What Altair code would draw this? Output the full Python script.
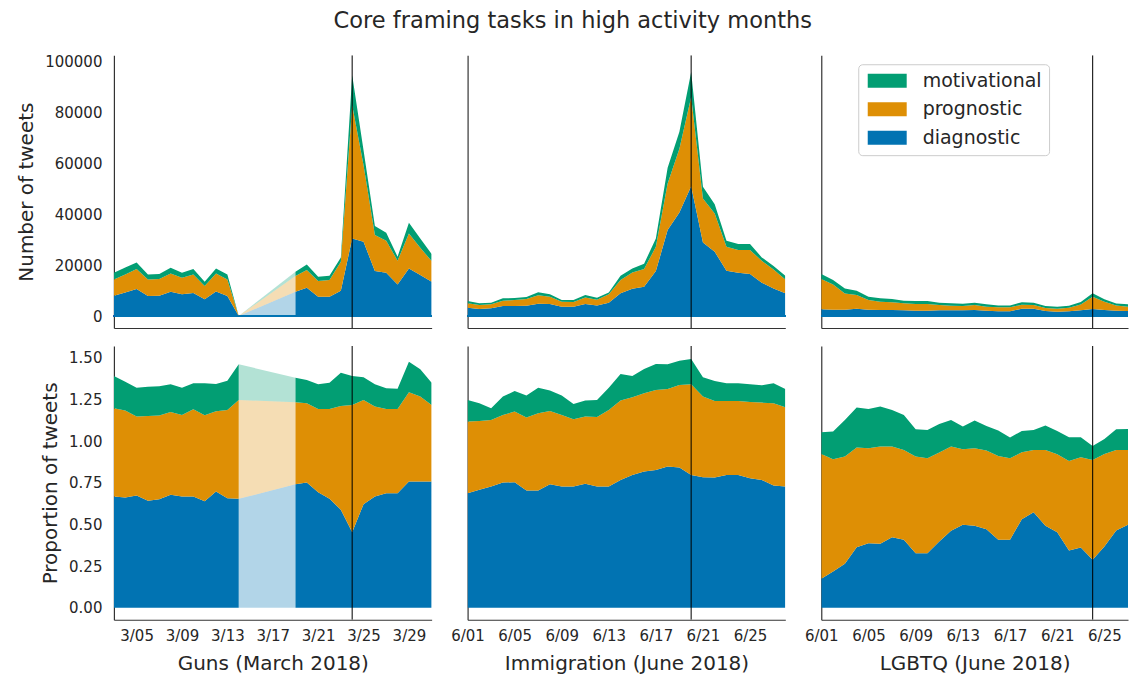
import altair as alt
import pandas as pd

SERIES = ["diagnostic", "prognostic", "motivational"]
LEGEND_ORDER = ["motivational", "prognostic", "diagnostic"]
COLORS = ["#029e73", "#de8f05", "#0173b2"]
BLUE = "#0173b2"

# ---------------- Guns (March 2018) ----------------
guns_dates = [f"2018-03-{d:02d}" for d in list(range(3, 15)) + list(range(19, 32))]
guns_count_diag = [7970, 9280, 10590, 7840, 7970, 9540, 8500, 9020, 6540, 9670, 7840, 0,
                   9540, 11110, 7580, 7580, 9930, 30450, 29150, 17650, 16990, 12420, 18690, 16080, 13460]
guns_count_prog = [6400, 7060, 7840, 6540, 6540, 7190, 6540, 7320, 5230, 7060, 6540, 0,
                   6140, 6930, 6140, 6540, 11370, 52280, 30060, 14120, 12550, 9280, 13720, 10720, 8100]
guns_count_mot = [2610, 2750, 2610, 1960, 1960, 2220, 1960, 2090, 1700, 1960, 1960, 0,
                  1700, 2220, 1700, 1700, 1700, 11760, 5880, 3530, 3140, 1570, 4180, 3660, 2750]
guns_prop_diag = [0.668, 0.662, 0.674, 0.642, 0.652, 0.678, 0.668, 0.668, 0.640, 0.698, 0.658, 0.654,
                  0.742, 0.752, 0.694, 0.654, 0.588, 0.454, 0.622, 0.668, 0.688, 0.688, 0.758, 0.758, 0.758]
guns_prop_prog = [0.530, 0.522, 0.474, 0.510, 0.502, 0.498, 0.490, 0.524, 0.516, 0.482, 0.530, 0.594,
                  0.492, 0.476, 0.500, 0.540, 0.624, 0.764, 0.626, 0.540, 0.506, 0.506, 0.536, 0.510, 0.460]
guns_prop_mot = [0.194, 0.174, 0.174, 0.176, 0.176, 0.166, 0.164, 0.156, 0.192, 0.164, 0.176, 0.214,
                 0.148, 0.140, 0.148, 0.158, 0.200, 0.174, 0.136, 0.134, 0.124, 0.122, 0.184, 0.164, 0.134]
guns_gap = ["2018-03-14", "2018-03-19"]
guns_event = "2018-03-24"

# ---------------- Immigration (June 2018) ----------------
imm_dates = [f"2018-06-{d:02d}" for d in range(1, 29)]
imm_count_diag = [3270, 2750, 3010, 3920, 3920, 4050, 4840, 4710, 3660, 3660, 4710, 4180, 5230, 8890,
                  10720, 11500, 17650, 33720, 40650, 50970, 28890, 25230, 17780, 16990, 16470, 13070, 10850, 8890]
imm_count_prog = [1700, 1570, 1570, 2090, 2350, 2610, 3270, 2880, 1960, 1830, 2610, 2220, 3270, 5230,
                  6400, 6930, 9540, 18300, 24960, 35030, 17250, 15030, 9410, 8890, 9410, 8630, 7450, 5490]
imm_count_mot = [920, 650, 650, 920, 780, 780, 1180, 920, 650, 780, 920, 780, 780, 1700,
                 1570, 2090, 3270, 6140, 6670, 9800, 4580, 3660, 2350, 2350, 2350, 1310, 1310, 1440]
imm_prop_diag = [0.688, 0.708, 0.728, 0.752, 0.754, 0.704, 0.704, 0.742, 0.728, 0.728, 0.744, 0.728, 0.728, 0.768,
                 0.798, 0.818, 0.828, 0.848, 0.842, 0.798, 0.784, 0.782, 0.798, 0.798, 0.778, 0.768, 0.734, 0.728]
imm_prop_prog = [0.430, 0.414, 0.400, 0.406, 0.424, 0.438, 0.464, 0.440, 0.430, 0.404, 0.404, 0.418, 0.460, 0.476,
                 0.466, 0.470, 0.480, 0.466, 0.496, 0.544, 0.484, 0.460, 0.444, 0.444, 0.458, 0.464, 0.494, 0.476]
imm_prop_mot = [0.130, 0.106, 0.070, 0.110, 0.124, 0.132, 0.154, 0.122, 0.116, 0.092, 0.096, 0.102, 0.134, 0.160,
                0.128, 0.146, 0.156, 0.148, 0.146, 0.152, 0.116, 0.120, 0.106, 0.106, 0.106, 0.104, 0.120, 0.110]
imm_event = "2018-06-20"

# ---------------- LGBTQ (June 2018) ----------------
lgb_dates = [f"2018-06-{d:02d}" for d in range(1, 29)]
lgb_count_diag = [2610, 2480, 2480, 2880, 2480, 2350, 2350, 2220, 2090, 2090, 2220, 2220, 2220, 2350,
                  2090, 1830, 1830, 2880, 2880, 1960, 1700, 1830, 2220, 2750, 2350, 2090, 1960, 1960]
lgb_count_prog = [11890, 9930, 6400, 5360, 3790, 3270, 3010, 2750, 2610, 2610, 2090, 1830, 1700, 1960,
                  1570, 1570, 1570, 1570, 1440, 1180, 1180, 1440, 2350, 4840, 3270, 2090, 1700, 1960]
lgb_count_mot = [1960, 1700, 1960, 1700, 1310, 1310, 1310, 1050, 1180, 1180, 920, 920, 920, 920,
                 920, 780, 780, 920, 920, 780, 780, 780, 920, 1310, 920, 780, 920, 780]
lgb_prop_diag = [0.174, 0.218, 0.264, 0.364, 0.388, 0.384, 0.424, 0.408, 0.328, 0.328, 0.398, 0.462, 0.498, 0.492,
                 0.472, 0.408, 0.408, 0.532, 0.574, 0.492, 0.454, 0.344, 0.362, 0.288, 0.368, 0.464, 0.498, 0.468]
lgb_prop_prog = [0.750, 0.674, 0.644, 0.598, 0.570, 0.584, 0.544, 0.540, 0.580, 0.570, 0.534, 0.506, 0.454, 0.466,
                 0.472, 0.504, 0.490, 0.402, 0.374, 0.456, 0.468, 0.538, 0.542, 0.600, 0.556, 0.484, 0.450, 0.476]
lgb_prop_mot = [0.130, 0.166, 0.220, 0.240, 0.236, 0.240, 0.220, 0.210, 0.164, 0.170, 0.172, 0.160, 0.136, 0.166,
                0.148, 0.152, 0.124, 0.128, 0.120, 0.146, 0.140, 0.142, 0.120, 0.084, 0.090, 0.124, 0.126, 0.134]
lgb_event = "2018-06-24"

col_titles = ["Guns (March 2018)", "Immigration (June 2018)", "LGBTQ (June 2018)"]
row_titles = ["Number of tweets", "Proportion of tweets"]
count_ticks = [0, 20000, 40000, 60000, 80000, 100000]
prop_ticks = [0.0, 0.25, 0.5, 0.75, 1.0, 1.25, 1.5]
guns_ticks = [5, 9, 13, 17, 21, 25, 29]
june_ticks = [1, 5, 9, 13, 17, 21, 25]


def long_df(dates, counts, props, gap_start=None):
    rows = []
    for r, s in enumerate(SERIES):
        for i, d in enumerate(dates):
            seg = 1 if (gap_start is not None and d > gap_start) else 0
            rows.append({"date": d, "series": s, "rank": r,
                         "count": counts[r][i], "prop": props[r][i], "seg": seg})
    return pd.DataFrame(rows)


guns_df = long_df(guns_dates, [guns_count_diag, guns_count_prog, guns_count_mot],
                  [guns_prop_diag, guns_prop_prog, guns_prop_mot], gap_start="2018-03-14")
imm_df = long_df(imm_dates, [imm_count_diag, imm_count_prog, imm_count_mot],
                 [imm_prop_diag, imm_prop_prog, imm_prop_mot])
lgb_df = long_df(lgb_dates, [lgb_count_diag, lgb_count_prog, lgb_count_mot],
                 [lgb_prop_diag, lgb_prop_prog, lgb_prop_mot])
guns_gap_df = guns_df[guns_df["date"].isin(guns_gap)].copy()
guns_gap_df["seg"] = 2

legend = alt.Legend(
    orient="none", legendX=745, legendY=9, title=None,
    labelFontSize=19, labelColor="#262626", labelFont="DejaVu Sans",
    symbolType="M-2.786,-1H2.786V1H-2.786Z", symbolSize=196, symbolOffset=12.5,
    symbolStrokeWidth=0, symbolOpacity=1, labelOffset=26,
    rowPadding=8.5, padding=7, strokeColor="#cccccc", fillColor="white",
    cornerRadius=4,
)
color = alt.Color("series:N", scale=alt.Scale(domain=LEGEND_ORDER, range=COLORS), legend=legend)


def dt(month, day):
    return alt.DateTime(year=2018, month=month, date=day, utc=True)


def panel(df, gap_df, event, month, xdom, ticks, width, top, first, title):
    if top:
        metric = "count"
        ydom = [-4706, 102353]
        yaxis = alt.Axis(values=count_ticks, format="d", title=row_titles[0]) if first \
            else alt.Axis(labels=False, title=None)
        xaxis = alt.Axis(labels=False, title=None)
        height = 273
    else:
        metric = "prop"
        ydom = [-0.072, 1.572]
        yaxis = alt.Axis(values=prop_ticks, format=".2f", title=row_titles[1]) if first \
            else alt.Axis(labels=False, title=None)
        xaxis = alt.Axis(values=[dt(month, d) for d in ticks], labelOverlap=False, labelFlush=False,
                         labelExpr="utcFormat(datum.value, '%-m/%d')", title=title)
        height = 274
    xs = alt.Scale(type="utc", domain=[dt(month, xdom[0]), dt(month, xdom[1])], nice=False)
    ys = alt.Scale(domain=ydom, nice=False, zero=False)
    x = alt.X("date:T", scale=xs, axis=xaxis)
    y = alt.Y("y0:Q", scale=ys, axis=yaxis)
    y2 = alt.Y2("y1:Q")

    def stacked(data, **mark):
        return alt.Chart(data).transform_stack(
            stack=metric, groupby=["date", "seg"], sort=[alt.SortField("rank", order="ascending")],
            as_=["y0", "y1"],
        ).mark_area(clip=True, **mark).encode(
            x=x, y=y, y2=y2, color=color, detail="seg:N")

    layers = []
    if top:
        layers.append(alt.Chart(df).mark_rule(color=BLUE, opacity=0.3, strokeWidth=1.5)
                      .encode(y=alt.datum(0)))
    layers.append(stacked(df))
    if gap_df is not None:
        layers.append(stacked(gap_df, opacity=0.3))
    ev = pd.DataFrame({"date": [event]})
    layers.append(alt.Chart(ev).mark_rule(color="black", strokeWidth=1.2, opacity=0.85, clip=True)
                  .encode(x=alt.X("date:T")))
    return alt.layer(*layers).properties(width=width, height=height)


specs = [
    (guns_df, guns_gap_df, guns_event, 3, (3, 31), guns_ticks, 318),
    (imm_df, None, imm_event, 6, (1, 28), june_ticks, 318),
    (lgb_df, None, lgb_event, 6, (1, 27), june_ticks, 307),
]
panels = []
for top in (True, False):
    for i, (df, gdf, ev, m, xdom, ticks, w) in enumerate(specs):
        panels.append(panel(df, gdf, ev, m, xdom, ticks, w, top, i == 0, col_titles[i]))

chart = alt.concat(*panels, columns=3, spacing={"row": 18, "column": 36}, bounds="flush").properties(
    title=alt.TitleParams("Core framing tasks in high activity months", anchor="middle",
                          fontSize=22.5, offset=22),
    padding={"left": 8, "top": 1, "right": 0, "bottom": 5},
).configure(font="DejaVu Sans").configure_view(stroke=None).configure_axis(
    domainColor="#333333", domainWidth=1.2, ticks=False, grid=False,
    labelFontSize=15, titleFontSize=20, labelColor="#262626", titleColor="#262626",
    titleFontWeight="normal", labelPadding=12, titlePadding=8,
).configure_axisX(labelPadding=9, titlePadding=10).configure_title(
    color="#262626", fontWeight="normal", font="DejaVu Sans")

chart.save("out.html", embed_options={"renderer": "svg", "actions": False})
